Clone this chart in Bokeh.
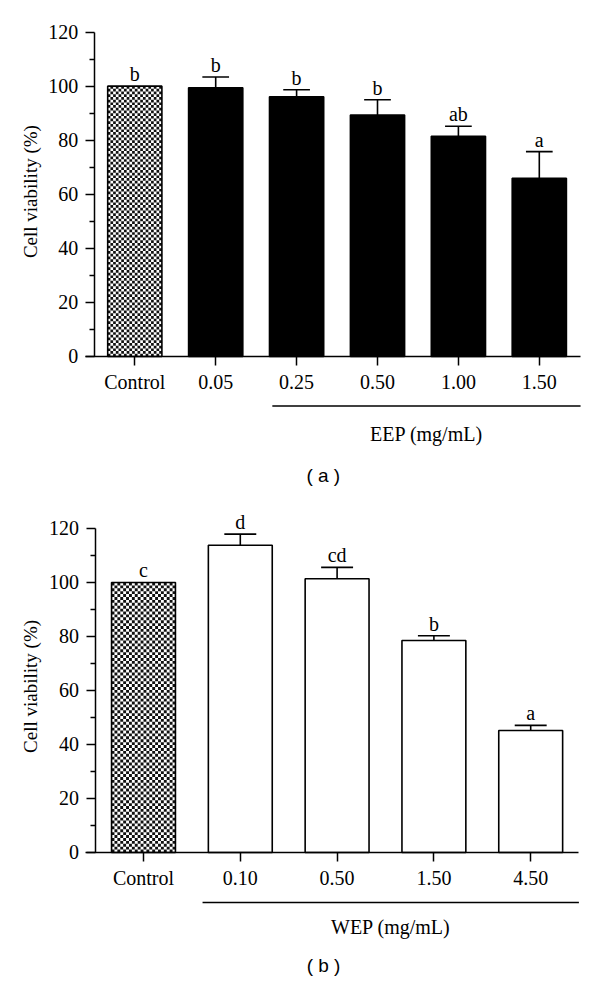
import math
from bokeh.plotting import figure
from bokeh.layouts import column
from bokeh.models import FixedTicker, Range1d
from bokeh.core.properties import value
from bokeh.embed import file_html
from bokeh.resources import INLINE

# ---------------- data ----------------
cats_a = ["Control", "0.05", "0.25", "0.50", "1.00", "1.50"]
vals_a = [100.0, 99.4, 96.1, 89.3, 81.5, 65.9]
errs_a = [0.0, 4.0, 2.6, 5.7, 3.7, 9.9]
lets_a = ["b", "b", "b", "b", "ab", "a"]

cats_b = ["Control", "0.10", "0.50", "1.50", "4.50"]
vals_b = [100.0, 113.8, 101.4, 78.5, 45.2]
errs_b = [0.0, 4.1, 4.2, 1.8, 1.9]
lets_b = ["c", "d", "cd", "b", "a"]

y_ticks = [0, 20, 40, 60, 80, 100, 120]
y_minor = [10, 30, 50, 70, 90, 110]

SERIF = "Liberation Serif"
SANS = "Liberation Sans"
FS = "20px"
W = 596


def panel(cats, vals, errs, lets, fill, bar_w, xr, yr, fh, axis_x,
          ncols, group_label, grp_x, br_y, gl_y, cap_label, cap_x, cap_y,
          ylab_x, ylab_y):
    p = figure(width=W, height=fh, x_range=Range1d(*xr),
               y_range=Range1d(*yr), output_backend="svg",
               toolbar_location=None, min_border=0)
    p.outline_line_color = None
    p.xgrid.grid_line_color = None
    p.ygrid.grid_line_color = None
    p.background_fill_color = "white"
    p.border_fill_color = "white"

    n = len(cats)
    xs = list(range(n))
    px_x = W / (xr[1] - xr[0])
    px_y = fh / (yr[1] - yr[0])

    # bars (non-control)
    p.vbar(x=xs[1:], top=vals[1:], width=bar_w, bottom=0,
           fill_color=fill, line_color="black", line_width=1.6)

    # control bar: checkerboard
    p.vbar(x=[xs[0]], top=[vals[0]], width=bar_w, bottom=0,
           fill_color="white", line_color=None)
    cw = bar_w / ncols
    ch_raw = cw * px_x / px_y
    nrows = max(1, round(vals[0] / ch_raw))
    ch = vals[0] / nrows
    L, R, B, T = [], [], [], []
    for i in range(nrows):
        for j in range(ncols):
            if (i + j) % 2 == 0:
                l = xs[0] - bar_w / 2 + j * cw
                L.append(l)
                R.append(l + cw)
                B.append(i * ch)
                T.append((i + 1) * ch)
    p.quad(left=L, right=R, bottom=B, top=T, fill_color="#111111",
           line_color=None)
    p.vbar(x=[xs[0]], top=[vals[0]], width=bar_w, bottom=0,
           fill_color=None, line_color="black", line_width=1.6)

    # error bars (upper only)
    ex = [x for x, e in zip(xs, errs) if e > 0]
    ev = [v for v, e in zip(vals, errs) if e > 0]
    ee = [v + e for v, e in zip(vals, errs) if e > 0]
    p.segment(x0=ex, y0=ev, x1=ex, y1=ee, line_color="black", line_width=1.6)
    cap = 0.165
    p.segment(x0=[x - cap for x in ex], y0=ee, x1=[x + cap for x in ex],
              y1=ee, line_color="black", line_width=1.6)

    # significance letters
    p.text(x=xs, y=[v + e for v, e in zip(vals, errs)], text=lets,
           text_font=value(SERIF), text_font_size=FS,
           text_align="center", text_baseline="bottom", y_offset=-1,
           text_color="black")

    # y axis at x = -0.5
    ya = p.yaxis[0]
    ya.fixed_location = -0.5
    ya.bounds = (0, 120)
    ya.ticker = FixedTicker(ticks=y_ticks, minor_ticks=y_minor)
    ya.axis_line_color = "black"
    ya.axis_line_width = 1.5
    ya.major_tick_in = 0
    ya.major_tick_out = 9
    ya.minor_tick_in = 0
    ya.minor_tick_out = 5
    ya.major_tick_line_width = 1.5
    ya.minor_tick_line_width = 1.5
    ya.major_tick_line_color = "black"
    ya.minor_tick_line_color = "black"
    ya.major_label_text_font = SERIF
    ya.major_label_text_font_size = FS
    ya.major_label_text_color = "black"
    ya.major_label_standoff = 7

    # x axis at y = 0
    xa = p.xaxis[0]
    xa.fixed_location = 0
    xa.bounds = axis_x
    xa.ticker = FixedTicker(ticks=xs, minor_ticks=[])
    xa.major_label_overrides = {i: c for i, c in enumerate(cats)}
    xa.axis_line_color = "black"
    xa.axis_line_width = 1.5
    xa.major_tick_in = 0
    xa.major_tick_out = 9
    xa.minor_tick_in = 0
    xa.minor_tick_out = 0
    xa.major_tick_line_width = 1.5
    xa.major_tick_line_color = "black"
    xa.major_label_text_font = SERIF
    xa.major_label_text_font_size = FS
    xa.major_label_text_color = "black"
    xa.major_label_standoff = 6

    # y axis title
    p.text(x=[ylab_x], y=[ylab_y], text=["Cell viability (%)"],
           angle=math.pi / 2, text_font=value(SERIF), text_font_size="19px",
           text_align="center", text_baseline="middle", text_color="black")

    # group bracket + label
    p.segment(x0=[grp_x[0]], y0=[br_y], x1=[grp_x[1]], y1=[br_y],
              line_color="black", line_width=1.5)
    p.text(x=[(grp_x[0] + grp_x[1]) / 2], y=[gl_y], text=[group_label],
           text_font=value(SERIF), text_font_size=FS, text_align="center",
           text_baseline="middle", text_color="black")
    # panel caption
    p.text(x=[cap_x], y=[cap_y], text=[cap_label], text_font=value(SANS),
           text_font_size="19px", text_align="center",
           text_baseline="middle", text_color="black")
    return p


pa = panel(cats_a, vals_a, errs_a, lets_a, "black", 0.67,
           (-1.660, 5.707), (-53.27, 131.69), 500, (-0.609, 5.51),
           20, "EEP (mg/mL)", (1.70, 5.51), -18.3, -28.8,
           "( a )", 2.33, -44.0, -1.29, 61)
pb = panel(cats_b, vals_b, errs_b, lets_b, "white", 0.66,
           (-1.4773, 4.6798), (-47.41, 130.37), 480, (-0.595, 4.498),
           22, "WEP (mg/mL)", (0.61, 4.498), -18.5, -27.6,
           "( b )", 1.86, -42.0, -1.17, 61.5)

layout = column(pa, pb, spacing=0)
open("out.html", "w").write(file_html(layout, INLINE))
